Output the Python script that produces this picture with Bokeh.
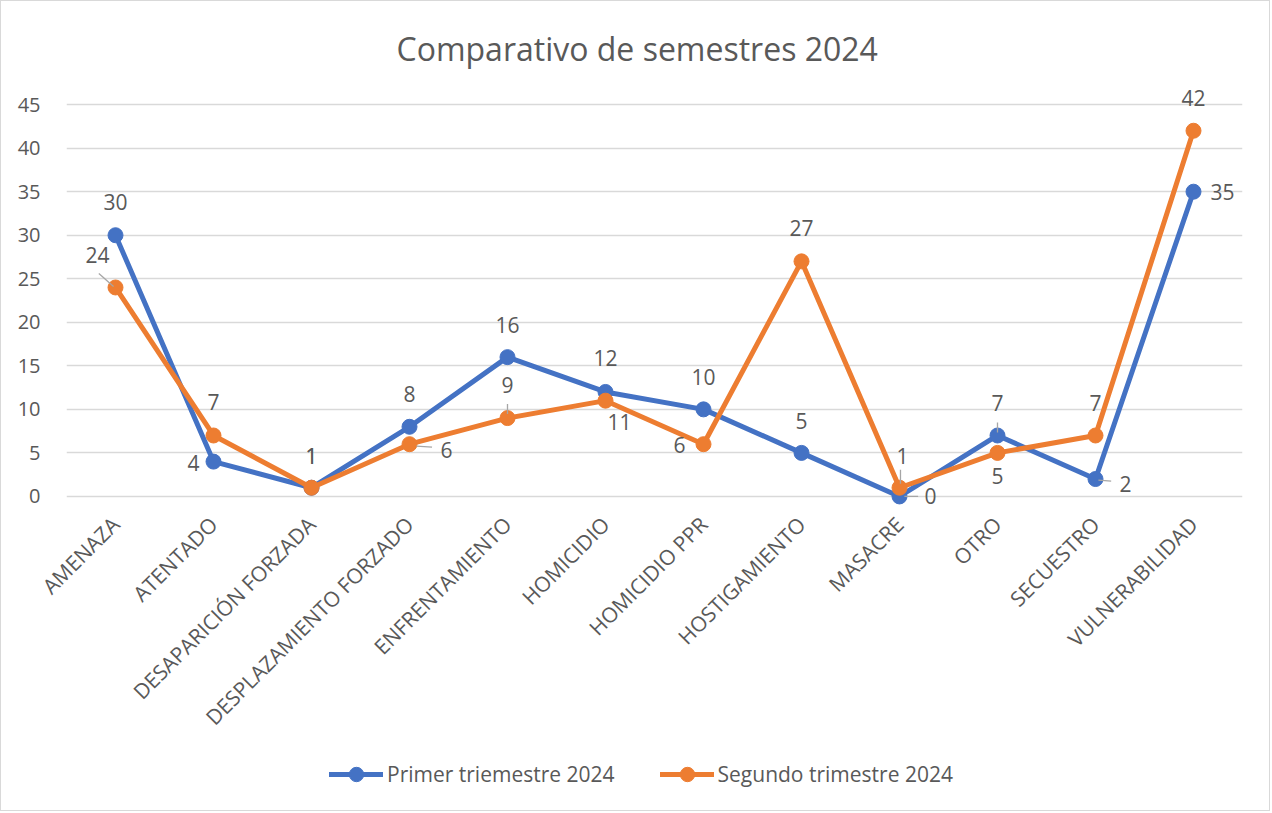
import math
from bokeh.plotting import figure
from bokeh.layouts import column
from bokeh.models import Legend, LegendItem, ColumnDataSource, Range1d, FixedTicker
from bokeh.transform import dodge
from bokeh.core.properties import value
from bokeh.embed import file_html
from bokeh.resources import INLINE

# ---- data ----
categories = ["AMENAZA", "ATENTADO", "DESAPARICIÓN FORZADA", "DESPLAZAMIENTO FORZADO",
              "ENFRENTAMIENTO", "HOMICIDIO", "HOMICIDIO PPR", "HOSTIGAMIENTO",
              "MASACRE", "OTRO", "SECUESTRO", "VULNERABILIDAD"]
primer = [30, 4, 1, 8, 16, 12, 10, 5, 0, 7, 2, 35]
segundo = [24, 7, 1, 6, 9, 11, 6, 27, 1, 5, 7, 42]
y_ticks = [0, 5, 10, 15, 20, 25, 30, 35, 40, 45]
series_names = ["Primer triemestre 2024", "Segundo trimestre 2024"]
title_text = "Comparativo de semestres 2024"

# ---- styles ----
FONT = "Open Sans"
TXT = "#595959"
BLUE = "#4472C4"
ORANGE = "#ED7D31"
GRID = "#D9D9D9"
W = 1268
H1 = 744
H2 = 65
LW = 5

# label placement (screen px offsets, align) per point
primer_place = [(0, -33, "center"), (-14, 1, "right"), (0, -32, "center"), (0, -33, "center"),
                (0, -32, "center"), (0, -34, "center"), (0, -32, "center"), (0, -32, "center"),
                (25, 0, "left"), (0, -32, "center"), (24, 5, "left"), (17, 0, "left")]
segundo_place = [(-18, -32, "center"), (0, -33, "center"), (0, -32, "center"), (31, 6, "left"),
                 (0, -33, "center"), (14, 21, "center"), (-18, 1, "right"), (0, -33, "center"),
                 (3, -32, "center"), (0, 23, "center"), (0, -32, "center"), (0, -33, "center")]

p = figure(x_range=categories, y_range=Range1d(-1.5, 48), width=W, height=H1,
           output_backend="svg", toolbar_location=None, title=title_text,
           min_border_left=65, min_border_right=W + 1 - 1242, min_border_top=77,
           min_border_bottom=H1 + 1 - 509)

p.title.align = "left"
p.title.offset = 330
p.title.text_font = FONT
p.title.text_font_size = "32px"
p.title.text_font_style = "normal"
p.title.text_color = TXT
p.title.standoff = 18

p.outline_line_color = None
p.background_fill_color = "white"
p.border_fill_color = "white"

p.xgrid.grid_line_color = None
p.ygrid.grid_line_color = GRID
p.ygrid.grid_line_width = 1.3
p.ygrid.ticker = FixedTicker(ticks=y_ticks)

p.yaxis.ticker = FixedTicker(ticks=y_ticks)
p.yaxis.axis_line_color = None
p.yaxis.major_tick_line_color = None
p.yaxis.minor_tick_line_color = None
p.yaxis.major_label_text_font = FONT
p.yaxis.major_label_text_font_size = "20px"
p.yaxis.major_label_text_color = TXT
p.yaxis.major_label_standoff = 20

p.xaxis.axis_line_color = None
p.xaxis.major_tick_line_color = None
p.xaxis.minor_tick_line_color = None
p.xaxis.major_label_text_font = FONT
p.xaxis.major_label_text_font_size = "21px"
p.xaxis.major_label_text_color = TXT
p.xaxis.major_label_orientation = math.pi / 4
p.xaxis.major_label_standoff = 5

src = ColumnDataSource(dict(cat=categories, primer=primer, segundo=segundo,
                            pl=[str(v) for v in primer], sl=[str(v) for v in segundo],
                            pdx=[a for a, b, c in primer_place], pdy=[b for a, b, c in primer_place],
                            pal=[c for a, b, c in primer_place],
                            sdx=[a for a, b, c in segundo_place], sdy=[b for a, b, c in segundo_place],
                            sal=[c for a, b, c in segundo_place]))

p.line("cat", "primer", source=src, line_color=BLUE, line_width=LW,
       line_cap="round", line_join="round")
p.scatter("cat", "primer", source=src, size=15, fill_color=BLUE, line_color=BLUE)
p.line("cat", "segundo", source=src, line_color=ORANGE, line_width=LW,
       line_cap="round", line_join="round")
p.scatter("cat", "segundo", source=src, size=15, fill_color=ORANGE, line_color=ORANGE)

# leader lines (category index, series, dx0, dy0 px, dx1, dy1 px)
PX = 8.71
leaders = [
    (0, segundo, -0.17, 14, -0.02, 1),
    (4, segundo, 0.0, 14, 0.0, 4),
    (9, primer, 0.0, 13, 0.0, 3),
    (8, segundo, 0.01, 18, 0.01, 4),
    (8, primer, 0.05, 0, 0.19, 0),
    (10, primer, 0.03, -1, 0.16, -2),
    (3, segundo, 0.07, -2, 0.23, -3),
]
for idx, ser, dx0, dy0, dx1, dy1 in leaders:
    ls = ColumnDataSource(dict(cat=[categories[idx]], y0=[ser[idx] + dy0 / PX], y1=[ser[idx] + dy1 / PX]))
    p.segment(x0=dodge("cat", dx0, range=p.x_range), y0="y0",
              x1=dodge("cat", dx1, range=p.x_range), y1="y1",
              source=ls, line_color="#A6A6A6", line_width=1.3)

p.text("cat", "primer", text="pl", source=src, x_offset="pdx", y_offset="pdy",
       text_align="pal", text_baseline="middle", text_font=value(FONT),
       text_font_size="21px", text_color=TXT)
p.text("cat", "segundo", text="sl", source=src, x_offset="sdx", y_offset="sdy",
       text_align="sal", text_baseline="middle", text_font=value(FONT),
       text_font_size="21px", text_color=TXT)

# ---- legend strip (own figure, renderers kept out of its visible range) ----
q = figure(x_range=categories, y_range=Range1d(1000, 1001), width=W, height=H2,
           output_backend="svg", toolbar_location=None,
           x_axis_location=None, y_axis_location=None,
           min_border_left=0, min_border_right=0, min_border_top=0, min_border_bottom=0)
q.outline_line_color = None
q.grid.grid_line_color = None
q.border_fill_color = "white"
ql1 = q.line("cat", "primer", source=src, line_color=BLUE, line_width=LW, line_cap="round")
qc1 = q.scatter("cat", "primer", source=src, size=15, fill_color=BLUE, line_color=BLUE)
ql2 = q.line("cat", "segundo", source=src, line_color=ORANGE, line_width=LW, line_cap="round")
qc2 = q.scatter("cat", "segundo", source=src, size=15, fill_color=ORANGE, line_color=ORANGE)

legend = Legend(items=[LegendItem(label=series_names[0], renderers=[ql1, qc1]),
                       LegendItem(label=series_names[1], renderers=[ql2, qc2])],
                orientation="horizontal", location=(263, 18))
legend.label_text_font = FONT
legend.label_text_font_size = "21px"
legend.label_text_color = TXT
legend.glyph_width = 54
legend.glyph_height = 36
legend.label_height = 20
legend.label_standoff = 4
legend.spacing = 45
legend.padding = 0
legend.margin = 0
legend.border_line_color = None
legend.background_fill_alpha = 0
q.add_layout(legend)

layout = column(p, q, spacing=0, styles={"border": "1px solid #D9D9D9"})
open("out.html", "w").write(file_html(layout, INLINE))
